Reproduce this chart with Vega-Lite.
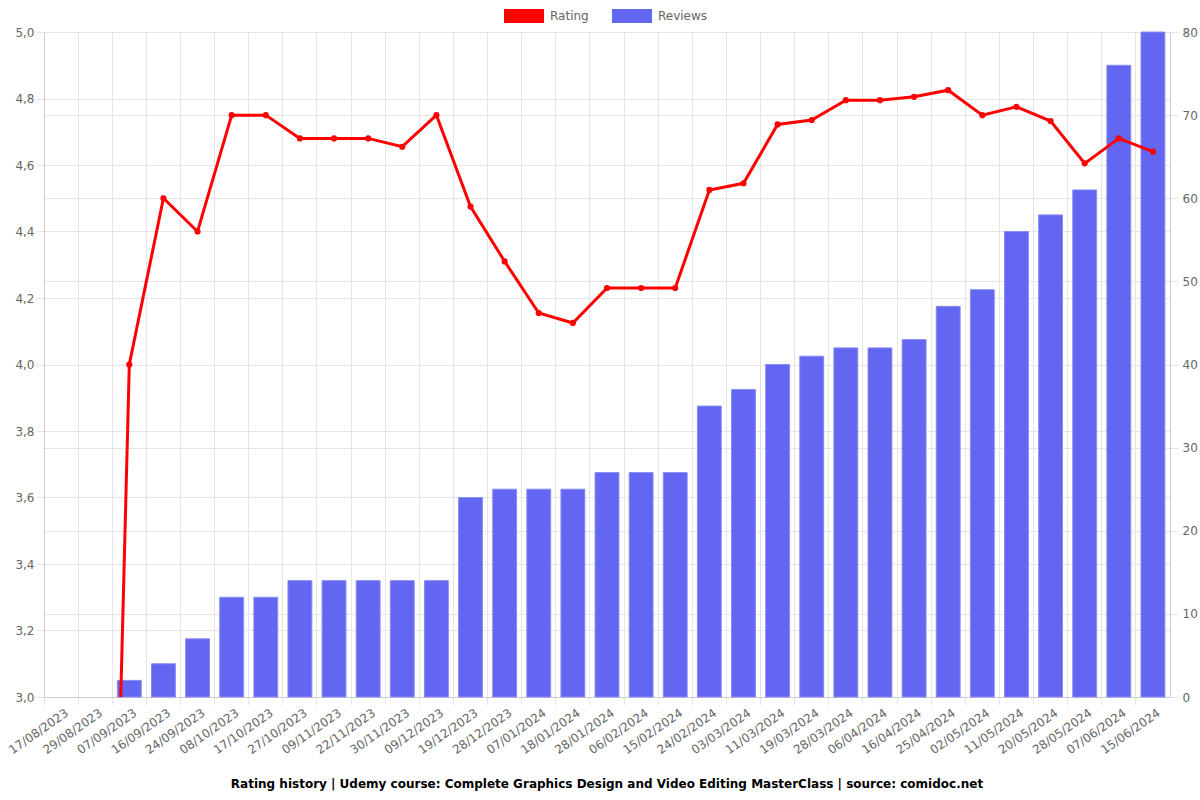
{
  "$schema": "https://vega.github.io/schema/vega-lite/v6.json",
  "width": 1126,
  "height": 665,
  "autosize": {"type": "none"},
  "padding": {"left": 44, "top": 32, "right": 30, "bottom": 103},
  "background": "white",
  "title": {"text": "Rating history | Udemy course: Complete Graphics Design and Video Editing MasterClass | source: comidoc.net", "orient": "bottom", "font": "DejaVu Sans", "fontSize": 12, "fontWeight": "bold", "color": "#000", "anchor": "middle", "offset": 23},
  "config": {
    "view": {"stroke": null},
    "axis": {"labelFont": "DejaVu Sans", "labelFontSize": 12, "labelColor": "#666", "gridColor": "#e5e5e5", "tickColor": "#e5e5e5", "domainColor": "#cccccc", "tickSize": 8, "titleFontSize": 0},
    "legend": {"labelFont": "DejaVu Sans", "labelFontSize": 12, "labelColor": "#666"}
  },
  "data": {"values": [
    {"date": "17/08/2023", "rating": 0, "reviews": 0},
    {"date": "29/08/2023", "rating": 0, "reviews": 0},
    {"date": "07/09/2023", "rating": 4.0, "reviews": 2},
    {"date": "16/09/2023", "rating": 4.5, "reviews": 4},
    {"date": "24/09/2023", "rating": 4.4, "reviews": 7},
    {"date": "08/10/2023", "rating": 4.75, "reviews": 12},
    {"date": "17/10/2023", "rating": 4.75, "reviews": 12},
    {"date": "27/10/2023", "rating": 4.68, "reviews": 14},
    {"date": "09/11/2023", "rating": 4.68, "reviews": 14},
    {"date": "22/11/2023", "rating": 4.68, "reviews": 14},
    {"date": "30/11/2023", "rating": 4.655, "reviews": 14},
    {"date": "09/12/2023", "rating": 4.75, "reviews": 14},
    {"date": "19/12/2023", "rating": 4.475, "reviews": 24},
    {"date": "28/12/2023", "rating": 4.31, "reviews": 25},
    {"date": "07/01/2024", "rating": 4.155, "reviews": 25},
    {"date": "18/01/2024", "rating": 4.125, "reviews": 25},
    {"date": "28/01/2024", "rating": 4.23, "reviews": 27},
    {"date": "06/02/2024", "rating": 4.23, "reviews": 27},
    {"date": "15/02/2024", "rating": 4.23, "reviews": 27},
    {"date": "24/02/2024", "rating": 4.525, "reviews": 35},
    {"date": "03/03/2024", "rating": 4.545, "reviews": 37},
    {"date": "11/03/2024", "rating": 4.722, "reviews": 40},
    {"date": "19/03/2024", "rating": 4.735, "reviews": 41},
    {"date": "28/03/2024", "rating": 4.795, "reviews": 42},
    {"date": "06/04/2024", "rating": 4.795, "reviews": 42},
    {"date": "16/04/2024", "rating": 4.805, "reviews": 43},
    {"date": "25/04/2024", "rating": 4.825, "reviews": 47},
    {"date": "02/05/2024", "rating": 4.75, "reviews": 49},
    {"date": "11/05/2024", "rating": 4.775, "reviews": 56},
    {"date": "20/05/2024", "rating": 4.732, "reviews": 58},
    {"date": "28/05/2024", "rating": 4.605, "reviews": 61},
    {"date": "07/06/2024", "rating": 4.68, "reviews": 76},
    {"date": "15/06/2024", "rating": 4.64, "reviews": 80}
  ]},
  "encoding": {
    "x": {"field": "date", "type": "ordinal", "sort": null,
      "scale": {"paddingInner": 0, "paddingOuter": 0,
        "domain": ["17/08/2023","29/08/2023","07/09/2023","16/09/2023","24/09/2023","08/10/2023","17/10/2023","27/10/2023","09/11/2023","22/11/2023","30/11/2023","09/12/2023","19/12/2023","28/12/2023","07/01/2024","18/01/2024","28/01/2024","06/02/2024","15/02/2024","24/02/2024","03/03/2024","11/03/2024","19/03/2024","28/03/2024","06/04/2024","16/04/2024","25/04/2024","02/05/2024","11/05/2024","20/05/2024","28/05/2024","07/06/2024","15/06/2024"]},
      "axis": {"title": null, "bandPosition": 0, "labelOffset": 3, "labelAngle": -35, "grid": true, "domainColor": "#cccccc", "labelPadding": 2}}
  },
  "layer": [
    {
      "transform": [{"filter": "datum.reviews > 0"}],
      "mark": {"type": "bar", "width": {"band": 0.7}, "stroke": "#8a8cf5", "strokeWidth": 1},
      "encoding": {
        "y": {"field": "reviews", "type": "quantitative", "scale": {"domain": [0, 80], "nice": false},
          "axis": {"orient": "right", "title": null, "values": [0,10,20,30,40,50,60,70,80], "grid": true, "labelPadding": 4}},
        "color": {"datum": "Reviews", "type": "nominal",
          "scale": {"domain": ["Rating", "Reviews"], "range": ["#ff0000", "#6366f1"]},
          "legend": {"title": null, "orient": "none", "direction": "horizontal", "legendX": 470, "legendY": -26, "padding": 0,
            "symbolType": "M-2,-0.7H2V0.7H-2Z", "symbolSize": 400, "symbolOpacity": 1, "symbolStrokeWidth": 0, "labelOffset": 16, "columnPadding": 23}}
      }
    },
    {
      "layer": [
        {
          "mark": {"type": "line", "color": "#ff0000", "strokeWidth": 3, "clip": true},
          "encoding": {
            "y": {"field": "rating", "type": "quantitative", "scale": {"domain": [3, 5], "nice": false},
              "axis": {"orient": "left", "title": null, "values": [3,3.2,3.4,3.6,3.8,4,4.2,4.4,4.6,4.8,5], "labelExpr": "replace(format(datum.value, '.1f'), '.', ',')", "grid": true}}
          }
        },
        {
          "transform": [{"filter": "datum.rating >= 3"}],
          "mark": {"type": "point", "filled": true, "color": "#ff0000", "size": 38, "opacity": 1},
          "encoding": {
            "y": {"field": "rating", "type": "quantitative"}
          }
        }
      ]
    }
  ],
  "resolve": {"scale": {"y": "independent"}}
}
